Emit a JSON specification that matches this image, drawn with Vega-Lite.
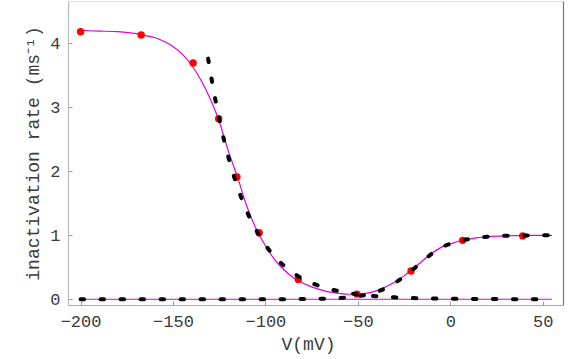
{
  "$schema": "https://vega.github.io/schema/vega-lite/v6.json",
  "width": 495,
  "height": 304,
  "autosize": {"type": "none"},
  "padding": {"left": 68, "top": 1, "right": 18, "bottom": 54},
  "background": "white",
  "config": {
    "view": {"stroke": null},
    "axis": {
      "labelFont": "Liberation Mono",
      "titleFont": "Liberation Mono",
      "labelFontSize": 17,
      "titleFontSize": 18,
      "titleFontWeight": "normal",
      "labelColor": "#3a3a3a",
      "titleColor": "#3a3a3a",
      "grid": false,
      "tickColor": "#999999",
      "tickSize": -4,
      "domainWidth": 1.2
    }
  },
  "datasets": {
    "zero": [{"V": -200, "r": 0}, {"V": 55, "r": 0}],
    "total": [
      {"V": -200, "r": 4.20}, {"V": -190, "r": 4.19}, {"V": -180, "r": 4.18}, {"V": -170, "r": 4.15},
      {"V": -165, "r": 4.12}, {"V": -160, "r": 4.09}, {"V": -155, "r": 4.03}, {"V": -150, "r": 3.95},
      {"V": -145, "r": 3.83}, {"V": -140, "r": 3.66}, {"V": -135, "r": 3.43}, {"V": -130, "r": 3.14},
      {"V": -125, "r": 2.78}, {"V": -120, "r": 2.31}, {"V": -115, "r": 1.90}, {"V": -110, "r": 1.45},
      {"V": -105, "r": 1.10}, {"V": -100, "r": 0.835}, {"V": -95, "r": 0.62}, {"V": -90, "r": 0.46},
      {"V": -85, "r": 0.34}, {"V": -80, "r": 0.255}, {"V": -75, "r": 0.194}, {"V": -70, "r": 0.147},
      {"V": -65, "r": 0.11}, {"V": -60, "r": 0.09}, {"V": -55, "r": 0.078}, {"V": -50, "r": 0.078},
      {"V": -45, "r": 0.095}, {"V": -40, "r": 0.13}, {"V": -35, "r": 0.19}, {"V": -30, "r": 0.268},
      {"V": -25, "r": 0.365}, {"V": -20, "r": 0.479}, {"V": -15, "r": 0.602}, {"V": -10, "r": 0.715},
      {"V": -5, "r": 0.81}, {"V": 0, "r": 0.865}, {"V": 5, "r": 0.91}, {"V": 10, "r": 0.94},
      {"V": 15, "r": 0.962}, {"V": 20, "r": 0.976}, {"V": 25, "r": 0.985}, {"V": 30, "r": 0.991},
      {"V": 35, "r": 0.994}, {"V": 40, "r": 0.996}, {"V": 45, "r": 0.998}, {"V": 50, "r": 0.999},
      {"V": 55, "r": 0.999}
    ],
    "expo": [
      {"V": -131, "r": 3.76}, {"V": -128, "r": 3.26}, {"V": -125, "r": 2.82}, {"V": -120, "r": 2.217},
      {"V": -115, "r": 1.743}, {"V": -110, "r": 1.371}, {"V": -105, "r": 1.079}, {"V": -100, "r": 0.848},
      {"V": -95, "r": 0.666}, {"V": -90, "r": 0.523}, {"V": -85, "r": 0.411}, {"V": -80, "r": 0.323},
      {"V": -75, "r": 0.253}, {"V": -70, "r": 0.199}, {"V": -65, "r": 0.157}, {"V": -60, "r": 0.124},
      {"V": -55, "r": 0.097}, {"V": -50, "r": 0.077}, {"V": -45, "r": 0.061}, {"V": -40, "r": 0.048},
      {"V": -35, "r": 0.037}, {"V": -30, "r": 0.030}, {"V": -20, "r": 0.018}, {"V": -10, "r": 0.011},
      {"V": 0, "r": 0.007}, {"V": 10, "r": 0.004}, {"V": 20, "r": 0.003}, {"V": 30, "r": 0.002},
      {"V": 40, "r": 0.001}, {"V": 55, "r": 0.0}
    ],
    "sig": [
      {"V": -200, "r": 0}, {"V": -150, "r": 0}, {"V": -100, "r": 0.0005}, {"V": -80, "r": 0.003},
      {"V": -75, "r": 0.0044}, {"V": -70, "r": 0.0072}, {"V": -65, "r": 0.0115}, {"V": -60, "r": 0.0185},
      {"V": -55, "r": 0.0296}, {"V": -50, "r": 0.047}, {"V": -45, "r": 0.074}, {"V": -40, "r": 0.114},
      {"V": -35, "r": 0.172}, {"V": -30, "r": 0.252}, {"V": -25, "r": 0.353}, {"V": -20, "r": 0.469},
      {"V": -15, "r": 0.595}, {"V": -10, "r": 0.71}, {"V": -5, "r": 0.81}, {"V": 0, "r": 0.865},
      {"V": 5, "r": 0.91}, {"V": 10, "r": 0.94}, {"V": 15, "r": 0.962}, {"V": 20, "r": 0.976},
      {"V": 25, "r": 0.985}, {"V": 30, "r": 0.991}, {"V": 40, "r": 0.996}, {"V": 50, "r": 0.999},
      {"V": 55, "r": 0.999}
    ],
    "points": [
      {"V": -200, "r": 4.18}, {"V": -167.2, "r": 4.13}, {"V": -139.1, "r": 3.69}, {"V": -125.3, "r": 2.82},
      {"V": -115.4, "r": 1.91}, {"V": -103.4, "r": 1.04}, {"V": -82.2, "r": 0.31}, {"V": -50.5, "r": 0.08},
      {"V": -21.2, "r": 0.44}, {"V": 6.7, "r": 0.92}, {"V": 39.2, "r": 0.99}
    ]
  },
  "resolve": {"axis": {"x": "independent", "y": "independent"}},
  "layer": [
    {
      "data": {"name": "zero"},
      "mark": {"type": "line", "color": "#e000e0", "strokeWidth": 1.2},
      "encoding": {
        "x": {"field": "V", "type": "quantitative",
          "scale": {"domain": [-206.8, 61], "nice": false, "zero": false},
          "axis": {"orient": "bottom", "title": "V(mV)", "values": [-200, -150, -100, -50, 0, 50],
            "domainColor": "#aaaaaa", "labelPadding": 12, "titlePadding": 6, "titleX": 240}},
        "y": {"field": "r", "type": "quantitative",
          "scale": {"domain": [-0.09, 4.66], "nice": false, "zero": false},
          "axis": {"orient": "left", "title": "inactivation rate (ms⁻¹)", "values": [0, 1, 2, 3, 4],
            "domainColor": "#bbbbbb", "labelPadding": 12, "titlePadding": 7}}
      }
    },
    {
      "data": {"name": "total"},
      "mark": {"type": "line", "color": "#e000e0", "strokeWidth": 1.2, "interpolate": "monotone"},
      "encoding": {
        "x": {"field": "V", "type": "quantitative", "axis": null},
        "y": {"field": "r", "type": "quantitative", "axis": null}
      }
    },
    {
      "data": {"name": "points"},
      "mark": {"type": "point", "filled": true, "color": "#ff0000", "opacity": 1, "size": 55},
      "encoding": {
        "x": {"field": "V", "type": "quantitative", "axis": null},
        "y": {"field": "r", "type": "quantitative", "axis": null}
      }
    },
    {
      "data": {"name": "expo"},
      "mark": {"type": "line", "color": "#000000", "strokeWidth": 4, "strokeDash": [3.5, 16.5], "strokeCap": "round", "interpolate": "monotone"},
      "encoding": {
        "x": {"field": "V", "type": "quantitative", "axis": null},
        "y": {"field": "r", "type": "quantitative", "axis": null}
      }
    },
    {
      "data": {"name": "sig"},
      "mark": {"type": "line", "color": "#000000", "strokeWidth": 4, "strokeDash": [3.5, 16.5], "strokeCap": "round", "interpolate": "monotone"},
      "encoding": {
        "x": {"field": "V", "type": "quantitative",
          "axis": {"orient": "top", "title": null, "labels": false, "ticks": false, "domainColor": "#dddddd"}},
        "y": {"field": "r", "type": "quantitative",
          "axis": {"orient": "right", "title": null, "labels": false, "ticks": false, "domainColor": "#777777"}}
      }
    }
  ]
}
